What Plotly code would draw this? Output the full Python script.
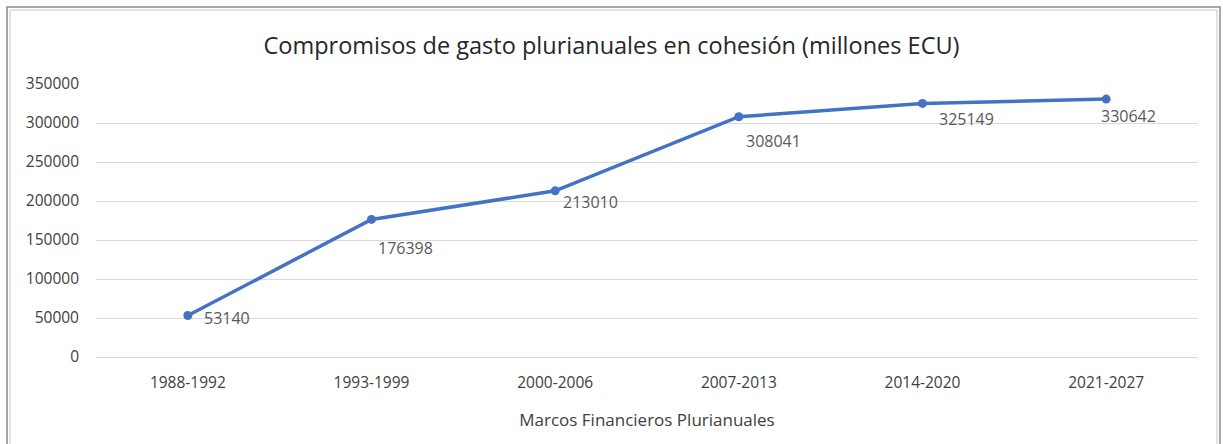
import plotly.graph_objects as go

periodos = ["1988-1992", "1993-1999", "2000-2006", "2007-2013", "2014-2020", "2021-2027"]
compromisos = [53140, 176398, 213010, 308041, 325149, 330642]

# pixel offsets of each value label relative to its point
desplaz_x = [14, 4, 6, 5, 14, -7]
desplaz_y = [-2, -29, -11, -24, -16, -17]

W, H = 1223, 444
L, R, T, B = 96, 25, 84, 87
FONT = "'Open Sans', sans-serif"


def px_x(x):
    return (x - L) / (W - L - R)


def px_y(y):
    return (H - B - y) / (H - T - B)


fig = go.Figure()
fig.add_trace(go.Scatter(
    x=periodos,
    y=compromisos,
    mode="lines+markers",
    line=dict(color="#4472C4", width=3.5),
    marker=dict(color="#4472C4", size=9),
    cliponaxis=False,
    showlegend=False,
    hoverinfo="x+y",
))

annotations = []
for p, v, dx, dy in zip(periodos, compromisos, desplaz_x, desplaz_y):
    annotations.append(dict(
        x=p, y=v, xref="x", yref="y", text=str(v), showarrow=False,
        xanchor="left", yanchor="middle", xshift=dx, yshift=dy,
        font=dict(family=FONT, size=16, color="#595959"),
    ))

# double frame around the chart
frame = [
    dict(x0=7, y0=7, x1=1220, y1=460, color="#8c8c8c", w=1.5),
    dict(x0=10, y0=10, x1=1217, y1=460, color="#c8c8c8", w=1),
]
shapes = []
for f in frame:
    shapes.append(dict(
        type="rect", xref="paper", yref="paper",
        x0=px_x(f["x0"]), x1=px_x(f["x1"]), y0=px_y(f["y1"]), y1=px_y(f["y0"]),
        line=dict(color=f["color"], width=f["w"]), fillcolor="rgba(0,0,0,0)", layer="below",
    ))

fig.update_layout(
    width=W, height=H,
    margin=dict(l=L, r=R, t=T, b=B),
    paper_bgcolor="white", plot_bgcolor="white",
    title=dict(
        text="Compromisos de gasto plurianuales en cohesión (millones ECU)",
        x=0.5, xanchor="center", y=1 - 46 / H, yanchor="middle",
        font=dict(family=FONT, size=23.5, color="#262626"),
    ),
    xaxis=dict(
        type="category", range=[-0.5, 5.5],
        showgrid=False, showline=False,
        ticks="outside", ticklen=11, tickcolor="rgba(0,0,0,0)",
        tickfont=dict(family=FONT, size=15.5, color="#404040"),
        title=dict(text="Marcos Financieros Plurianuales", standoff=22,
                   font=dict(family=FONT, size=17, color="#404040")),
    ),
    yaxis=dict(
        range=[0, 350000], dtick=50000, tickformat="d",
        showgrid=True, gridcolor="#d9d9d9", gridwidth=1,
        zeroline=True, zerolinecolor="#d9d9d9", zerolinewidth=1,
        showline=False, ticks="", ticklabelstandoff=16,
        tickfont=dict(family=FONT, size=15.5, color="#404040"),
    ),
    annotations=annotations,
    shapes=shapes,
)

fig.write_html("out.html")
